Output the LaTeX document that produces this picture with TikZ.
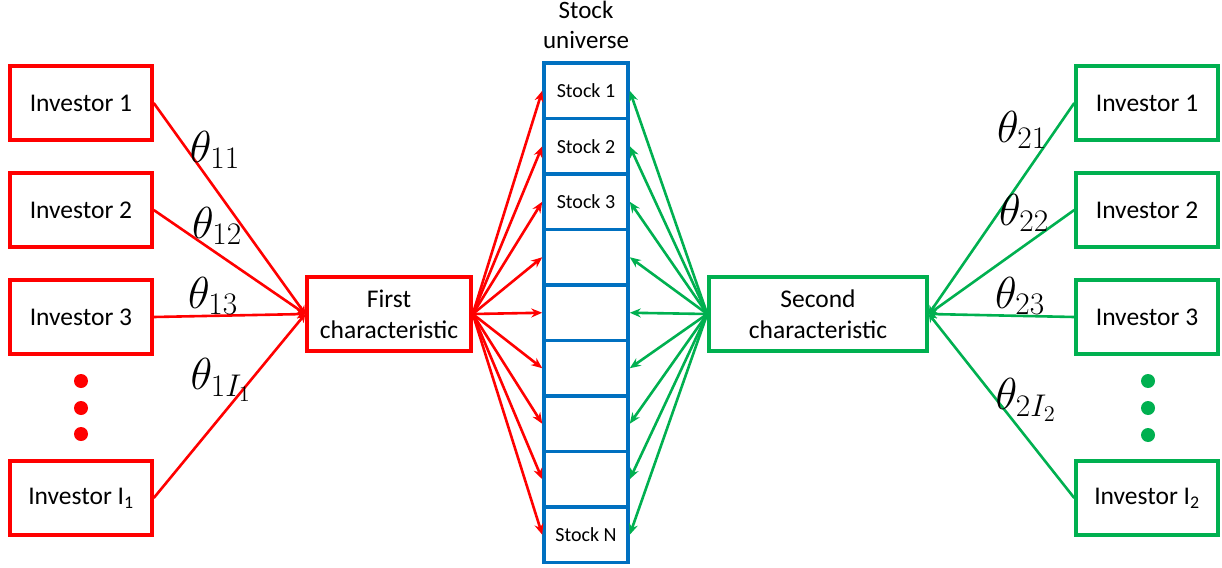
\RequirePackage{fix-cm}
\documentclass[tikz,border=0pt]{standalone}
\usepackage{fontspec}
\setmainfont{Carlito}
\usetikzlibrary{arrows.meta,positioning}

\definecolor{invred}{RGB}{255,0,0}
\definecolor{invgreen}{RGB}{0,176,80}
\definecolor{stockblue}{RGB}{0,112,192}

\newcommand{\wt}[1]{\scalebox{1.6}{$\theta_{#1}$}}

\tikzset{
  investor/.style={draw, rectangle, line width=3.5pt, minimum width=142pt,
    minimum height=74pt, font=\fontsize{25.5}{30}\selectfont},
  charbox/.style={draw, rectangle, line width=3.5pt, minimum height=74pt,
    align=center, font=\fontsize{25.5}{31}\selectfont},
  cell/.style={draw=stockblue, rectangle, line width=3.5pt, minimum width=84pt,
    minimum height=55.5pt, font=\fontsize{20}{24}\selectfont},
  weight/.style={inner sep=0pt, font=\fontsize{28}{32}\selectfont},
  link/.style={line width=2.6pt, -{Stealth[length=11pt,width=9pt]}},
  feed/.style={line width=2.6pt, -{Stealth[length=8pt,width=9pt]}},
  dot/.style={circle, fill, inner sep=0pt, minimum size=14pt}
}

\begin{document}
\begin{tikzpicture}[x=1pt,y=-1pt]
\useasboundingbox (0,0) rectangle (1222,567);

% left group
\node[investor, invred, text=black] (linv1) at (81,103) {Investor 1};
\node[investor, invred, text=black] (linv2) at (81,210) {Investor 2};
\node[investor, invred, text=black] (linv3) at (81,317) {Investor 3};
\node[investor, invred, text=black] (linvI) at (81,498) {Investor I\textsubscript{1}};
\node[dot, invred] (ldot1) at (81,381) {};
\node[dot, invred] (ldot2) at (81,408) {};
\node[dot, invred] (ldot3) at (81,434) {};

\node[charbox, invred, text=black, minimum width=164pt] (first) at (389,314) {First\\characteristic};

% stock universe
\node[font=\fontsize{25}{30}\selectfont, align=center] (universe) at (586,25) {Stock\\universe};
\foreach \i/\lab in {1/Stock 1,2/Stock 2,3/Stock 3,4/,5/,6/,7/,8/,9/Stock N}
  \node[cell] (s\i) at (586,{63+27.75+55.5*(\i-1)}) {\lab};

% right group
\node[charbox, invgreen, text=black, minimum width=218pt] (second) at (818,314) {Second\\characteristic};

\node[investor, invgreen, text=black] (rinv1) at (1147,103) {Investor 1};
\node[investor, invgreen, text=black] (rinv2) at (1147,210) {Investor 2};
\node[investor, invgreen, text=black] (rinv3) at (1147,317) {Investor 3};
\node[investor, invgreen, text=black] (rinvI) at (1147,498) {Investor I\textsubscript{2}};
\node[dot, invgreen] (rdot1) at (1148,381) {};
\node[dot, invgreen] (rdot2) at (1148,408) {};
\node[dot, invgreen] (rdot3) at (1148,435) {};

% investors to characteristics
\foreach \n in {linv1,linv2,linv3,linvI}
  \draw[feed, invred] (\n.east) -- (first.west);
\foreach \n in {rinv1,rinv2,rinv3,rinvI}
  \draw[feed, invgreen] (\n.west) -- (second.east);

% characteristics to stocks
\foreach \i in {1,...,9}{
  \draw[link, invred] (first.east) -- (s\i.west);
  \draw[link, invgreen] (second.west) -- (s\i.east);
}

% weights
\node[weight] (w11) at (215,150) {\wt{11}};
\node[weight] (w12) at (217,226) {\wt{12}};
\node[weight] (w13) at (213,296) {\wt{13}};
\node[weight] (w1I) at (221,380) {\wt{1I_1}};
\node[weight] (w21) at (1022,130) {\wt{21}};
\node[weight] (w22) at (1024,213) {\wt{22}};
\node[weight] (w23) at (1020,296) {\wt{23}};
\node[weight] (w2I) at (1026,400) {\wt{2I_2}};
\end{tikzpicture}
\end{document}
